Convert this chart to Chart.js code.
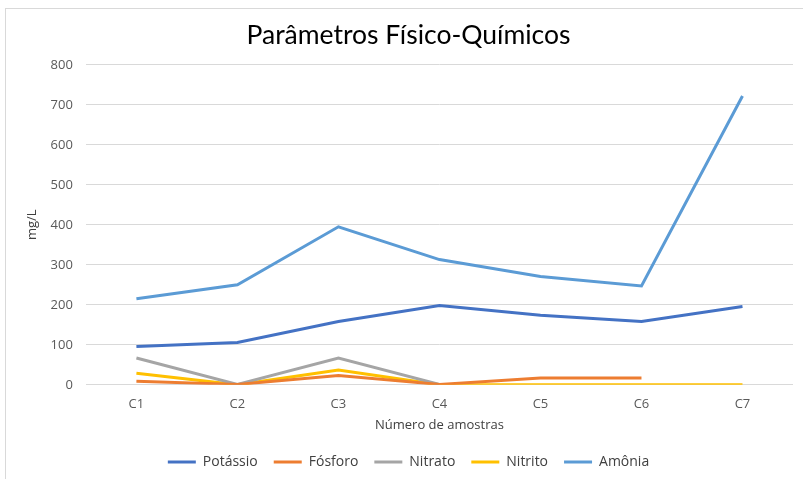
<!DOCTYPE html>
<html>
<head>
<meta charset="utf-8">
<script src="https://cdn.jsdelivr.net/npm/chart.js@4"></script>
<style>
  html, body { margin: 0; padding: 0; background: #fff; }
  #wrap { position: relative; width: 803px; height: 479px; }
</style>
</head>
<body>
<div id="wrap"><canvas id="c" width="803" height="479"></canvas></div>
<script>
const categories = ['C1', 'C2', 'C3', 'C4', 'C5', 'C6', 'C7'];
const potassio = [96, 106, 158, 198, 174, 158, 196];
const fosforo  = [9, 1, 23, 1, 17, 17, null];
const nitrato  = [67, 1, 67, 1, null, null, null];
const nitrito  = [29, 0, 37, 0, 0, 0, 0];
const amonia   = [215, 250, 395, 313, 271, 247, 722];
const yTicks   = [0, 100, 200, 300, 400, 500, 600, 700, 800];

const frame = {
  id: 'frame',
  beforeDraw(chart) {
    const ctx = chart.ctx;
    ctx.save();
    ctx.fillStyle = '#ffffff';
    ctx.fillRect(0, 0, chart.width, chart.height);
    ctx.strokeStyle = '#D9D9D9';
    ctx.lineWidth = 1;
    ctx.strokeRect(5.5, 8.5, chart.width + 10, chart.height + 10);
    ctx.restore();
  }
};

function ds(label, data, color) {
  return { label, data, borderColor: color, backgroundColor: color, borderWidth: 3,
           pointRadius: 0, pointHoverRadius: 0, tension: 0, spanGaps: false, fill: false };
}

new Chart(document.getElementById('c'), {
  type: 'line',
  data: {
    labels: categories,
    datasets: [
      ds('Potássio', potassio, '#4472C4'),
      ds('Fósforo', fosforo, '#ED7D31'),
      ds('Nitrato', nitrato, '#A5A5A5'),
      ds('Nitrito', nitrito, '#FFC000'),
      ds('Amônia', amonia, '#5B9BD5')
    ]
  },
  options: {
    responsive: false,
    animation: false,
    events: [],
    layout: { padding: { left: 24, right: 10, top: 16, bottom: 0 } },
    plugins: {
      title: {
        display: true,
        text: 'Parâmetros Físico-Químicos',
        color: '#000000',
        font: { family: 'Lato', size: 26.5, weight: 'normal' },
        padding: { top: 4, bottom: 13 }
      },
      legend: {
        position: 'bottom',
        labels: {
          usePointStyle: true,
          pointStyle: 'line',
          pointStyleWidth: 28,
          color: '#404040',
          font: { family: 'Open Sans', size: 14 },
          padding: 16
        }
      },
      tooltip: { enabled: false }
    },
    scales: {
      x: {
        offset: true,
        grid: { display: false, drawTicks: false },
        border: { display: false },
        ticks: { color: '#595959', font: { family: 'Open Sans', size: 13 }, padding: 12 },
        title: { display: true, text: 'Número de amostras', color: '#404040',
                 font: { family: 'Open Sans', size: 13 }, padding: { top: -7, bottom: 6 } }
      },
      y: {
        min: 0, max: 800,
        afterBuildTicks(axis) { axis.ticks = yTicks.map(v => ({ value: v })); },
        grid: { color: '#D9D9D9', lineWidth: 1, drawTicks: false },
        border: { display: false },
        ticks: { color: '#595959', font: { family: 'Open Sans', size: 13 }, padding: 13 },
        title: { display: true, text: 'mg/L', color: '#404040',
                 font: { family: 'Open Sans', size: 13 }, padding: { top: 0, bottom: -2 } }
      }
    }
  },
  plugins: [frame]
});
</script>
</body>
</html>
